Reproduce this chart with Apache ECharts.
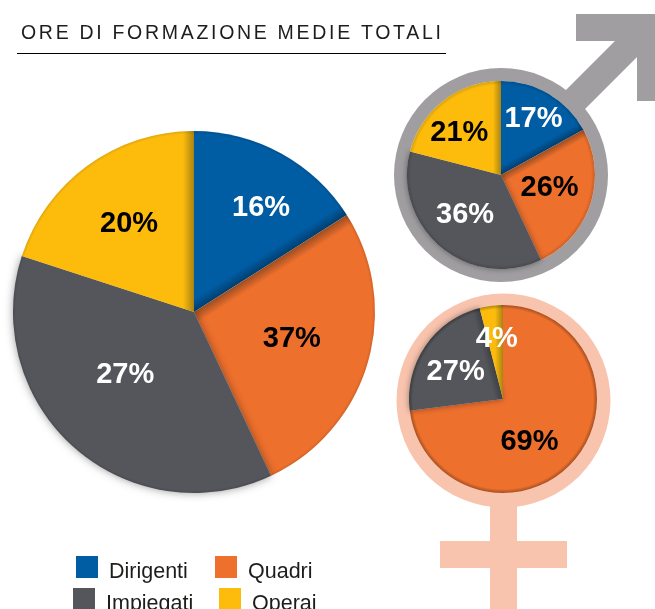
<!DOCTYPE html>
<html><head><meta charset="utf-8">
<style>html,body{margin:0;padding:0;background:#fff}#c{width:655px;height:609px}</style>
<script src="https://cdn.jsdelivr.net/npm/echarts@6/dist/echarts.min.js"></script>
</head><body><div id="c"></div>
<script>
const categories = ['Dirigenti','Quadri','Impiegati','Operai'];
const colors = {Dirigenti:'#005ca3',Quadri:'#ee702d',Impiegati:'#55565b',Operai:'#fdbc0c'};
const darkColors = {Dirigenti:'#003f70',Quadri:'#9c4d22',Impiegati:'#3f4044',Operai:'#a98312'};
const totalValues = [16,27,37,20];
const totalLabels = ['16%','37%','27%','20%'];
const maleValues = [17,26,36,21];
const maleLabels = ['17%','26%','36%','21%'];
const femaleValues = [0,73,23,4];
const femaleLabels = ['','69%','27%','4%'];
const titleText = 'ORE DI FORMAZIONE MEDIE TOTALI';
const font = '"Liberation Sans", Arial, sans-serif';

// canvas tracking for the title only
const origFill = CanvasRenderingContext2D.prototype.fillText;
CanvasRenderingContext2D.prototype.fillText = function(t,x,y,w){
  const prev = this.letterSpacing;
  if (t === titleText) this.letterSpacing = '2.7px';
  const r = w === undefined ? origFill.call(this,t,x,y) : origFill.call(this,t,x,y,w);
  this.letterSpacing = prev;
  return r;
};

// shade along one straight edge of a slice, measured from the slice's own angles
function edgeShade(name, center, angleDeg, side, width){
  const a = angleDeg*Math.PI/180, s = side==='start'?1:-1;
  return {type:'linear',global:true,
    x:center[0],y:center[1],
    x2:center[0]+s*Math.cos(a)*width,y2:center[1]+s*Math.sin(a)*width,
    colorStops:[{offset:0,color:darkColors[name]},{offset:1,color:colors[name]}]};
}

function pie(values, labels, center, radius, fontSize, sides, offsets, labelColors){
  const total = values.reduce((a,b)=>a+b,0);
  let acc = 0;
  const data = [];
  categories.forEach((name,i)=>{
    const from = acc/total*360; acc += values[i]; const to = acc/total*360;
    if(!values[i]) return;
    const side = sides[i];
    const fill = side ? edgeShade(name,center,side==='start'?from:to,side,radius>120?11:8) : colors[name];
    data.push({name,value:values[i],
      label:{formatter:labels[i],color:labelColors[i],offset:offsets[i]},
      itemStyle: name==='Impiegati'
        ? {color:fill,shadowBlur:radius>120?9:6,shadowColor:'rgba(0,0,0,0.4)'}
        : {color:fill}});
  });
  return {type:'pie',center,radius:[0,radius],startAngle:90,clockwise:true,silent:true,
    animation:false,minShowLabelAngle:0,avoidLabelOverlap:false,z:5,
    label:{show:true,position:'inside',fontFamily:font,fontWeight:'bold',fontSize},
    labelLine:{show:false},labelLayout:{hideOverlap:false},data};
}

function rim(cx,cy,r,w,a){
  return {type:'ring',z:6,silent:true,shape:{cx,cy,r,r0:r-w},style:{fill:{type:'radial',global:true,x:cx,y:cy,r,
    colorStops:[{offset:(r-w)/r,color:'rgba(0,0,0,0)'},{offset:1,color:'rgba(0,0,0,'+a+')'}]}}};
}

const chart = echarts.init(document.getElementById('c'),null,{renderer:'canvas'});
const legendPos = [[71,551],[210,551],[68,583],[214,583]];
const grey='#a09ea1', pink='#f9c4ae';
// swatch sits in the top 22 of a 32-tall box, so the label centres a little below it
const swatch = 'path://M0,0H22V22H0Z M0,32h0.01v0.01h-0.01Z';
chart.setOption({
  animation:false,
  backgroundColor:'#fff',
  color:categories.map(c=>colors[c]),
  title:{text:titleText,left:16,top:19,textStyle:{fontFamily:font,fontWeight:'normal',fontSize:19.5,color:'#1d1d1b'}},
  legend:categories.map((name,i)=>({
    data:[{name,icon:swatch,itemStyle:{color:colors[name]}}],left:legendPos[i][0],top:legendPos[i][1],orient:'horizontal',
    itemWidth:22,itemHeight:32,itemGap:0,selectedMode:false,
    textStyle:{fontFamily:font,fontSize:21.5,color:'#1d1d1b',padding:[0,0,0,6]}
  })),
  graphic:[
    {type:'rect',shape:{x:17,y:53,width:429,height:1},style:{fill:'#000'},z:10},
    {type:'polyline',shape:{points:[[555,120],[645,30]]},style:{stroke:grey,lineWidth:27,fill:null},z:1},
    {type:'polygon',shape:{points:[[576,14],[655,14],[655,101],[637,101],[637,41],[576,41]]},style:{fill:grey},z:1},
    {type:'circle',shape:{cx:501,cy:175,r:107},style:{fill:grey},z:1},
    {type:'circle',shape:{cx:501,cy:175,r:94},style:{fill:'#fff'},z:2},
    {type:'rect',shape:{x:490,y:490,width:27,height:119},style:{fill:pink},z:1},
    {type:'rect',shape:{x:440,y:541,width:127,height:27},style:{fill:pink},z:1},
    {type:'circle',shape:{cx:503.5,cy:400.5,r:107},style:{fill:pink},z:1},
    {type:'circle',shape:{cx:503,cy:399,r:94},style:{fill:'#fff'},z:2},
    rim(194,312,181,3,0.12),
    rim(501,175,94,4,0.15),
    rim(503,399,94,4,0.3)
  ],
  series:[
    pie(totalValues,totalLabels,[194,312],181,29,['end','start','','end'],
      [[22,-22],[8,1],[-7,-7],[-10,-12]],['#fff','#000','#fff','#000']),
    pie(maleValues,maleLabels,[501,175],94,29,['end','start','','end'],
      [[7,-13],[1,-2],[-4,1],[-11,-2]],['#fff','#000','#fff','#000']),
    pie(femaleValues,femaleLabels,[503,399],94,29,['','','end','end'],
      [[0,0],[-11,10],[-6,1],[0,-10]],['#fff','#000','#fff','#fff'])
  ]
});
</script></body></html>
